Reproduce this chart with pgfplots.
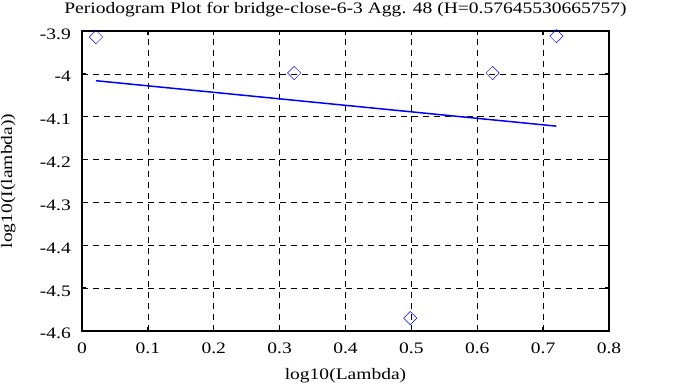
\documentclass[border=0pt]{standalone}
\usepackage{pgfplots}
\pgfplotsset{compat=1.18}
\usepackage{fontspec}
\setmainfont[FakeStretch=1.22]{Liberation Serif}
\begin{document}
\begin{tikzpicture}[font=\fontsize{16}{19}\selectfont]
\begin{axis}[
  scale only axis, width=527pt, height=300pt,
  xmin=0, xmax=0.8, ymin=-4.6, ymax=-3.9,
  xtick={0,0.1,0.2,0.3,0.4,0.5,0.6,0.7,0.8},
  xticklabels={0,0.1,0.2,0.3,0.4,0.5,0.6,0.7,0.8},
  ytick={-4.6,-4.5,-4.4,-4.3,-4.2,-4.1,-4,-3.9},
  yticklabels={-4.6,-4.5,-4.4,-4.3,-4.2,-4.1,-4,-3.9},
  tick align=inside, major tick length=4pt,
  tick style={black, line width=1.4pt},
  axis line style={line width=1.6pt},
  grid=major, major grid style={black, dashed, line width=0.7pt, dash pattern=on 6pt off 5pt},
  every axis title shift=0pt,
  title={Periodogram Plot for bridge-close-6-3 Agg. 48 (H=0.57645530665757)},
  title style={at={(axis description cs:0.5,1.06)}, anchor=base, inner sep=0pt, font=\fontsize{16}{19}\selectfont},
  xlabel={log10(Lambda)}, ylabel={log10(I(lambda))},
  xlabel style={at={(axis description cs:0.5,-0.163)}, anchor=base, inner sep=0pt, font=\fontsize{16}{19}\selectfont},
  ylabel style={at={(axis description cs:-0.1325,0.5)}, anchor=base, inner sep=0pt, rotate=0, font=\fontsize{16}{19}\selectfont},
  every tick label/.append style={font=\fontsize{16}{19}\selectfont},
  xticklabel style={anchor=base, inner sep=0pt, yshift=-23pt},
  yticklabel style={anchor=base east, inner sep=0pt, xshift=-11pt, yshift=-8pt},
]
\addplot[only marks, blue, mark=square, mark size=4.7pt, mark options={rotate=45, line width=0.5pt}] coordinates {
  (0.0212,-3.914) (0.3222,-3.998) (0.4983,-4.570) (0.6232,-3.998) (0.7202,-3.912)
};
\addplot[blue, line width=1.5pt] coordinates {(0.0212,-4.016) (0.7202,-4.122)};
\end{axis}
\pgfresetboundingbox
\path[use as bounding box] (current axis.south west) ++(-82pt,-56pt) rectangle ++(683pt,387pt);
\end{tikzpicture}
\end{document}
